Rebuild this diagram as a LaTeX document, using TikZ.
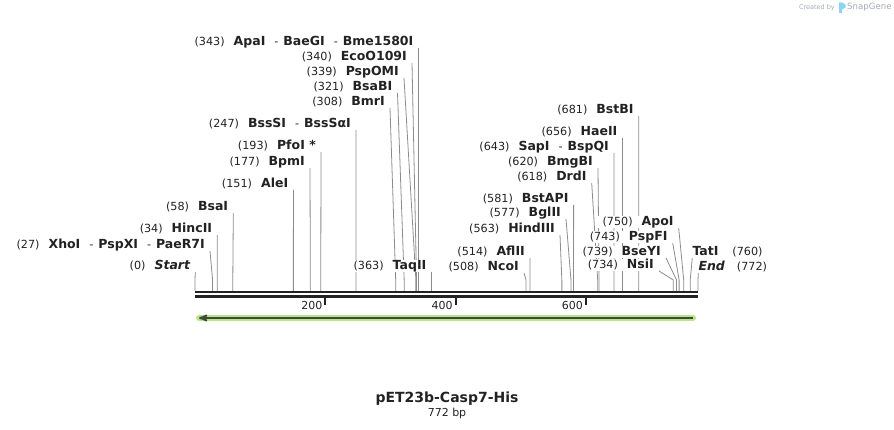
\documentclass[tikz,border=0pt]{standalone}
\usepackage{fontspec}
\setmainfont{DejaVu Sans}
\usetikzlibrary{arrows}
\usetikzlibrary{backgrounds}

\definecolor{sitegray}{HTML}{8C8C8C}
\definecolor{seqblack}{HTML}{222222}
\definecolor{featlight}{HTML}{B6E58A}
\definecolor{featdark}{HTML}{3F4A38}
\definecolor{credgray}{HTML}{A3AAB2}
\definecolor{credblue}{HTML}{8FD3F4}

\newcommand{\enz}[1]{{\fontsize{12.5}{14}\selectfont\bfseries #1}}
\newcommand{\enzit}[1]{{\fontsize{12.5}{14}\selectfont\bfseries\itshape #1}}
\newcommand{\sitepos}[1]{(#1)\hspace{9pt}}
\newcommand{\enzor}{\hspace{9pt}-\hspace{5pt}}

\begin{document}
\begin{tikzpicture}[x=1pt, y=-1pt,
  sitelabel/.style={anchor=south east, fill=white, inner xsep=5pt, inner ysep=0pt,
    text depth=2.5pt, font=\fontsize{11.2}{13}\selectfont, text=seqblack},
  siteline/.style={sitegray, line width=0.8pt},
  seqline/.style={seqblack, line width=2.6pt},
  tickmark/.style={seqblack, line width=2pt}]
\useasboundingbox (0,0) rectangle (894,430);

% cut sites, label right of the number
\foreach \p/\xt/\yt/\txt in {
 343/418.5/48/{\enz{ApaI}\enzor\enz{BaeGI}\enzor\enz{Bme1580I}},
 340/412/63/{\enz{EcoO109I}},
 339/404/78/{\enz{PspOMI}},
 321/397.5/93/{\enz{BsaBI}},
 308/390/108/{\enz{BmrI}},
 247/356/130/{\enz{BssSI}\enzor\enz{BssSαI}},
 193/321/152/{\enz{PfoI *}},
 177/310/168/{\enz{BpmI}},
 151/293.4/190/{\enz{AleI}},
 58/233.3/213/{\enz{BsaI}},
 34/217.3/235/{\enz{HincII}},
 27/210/251/{\enz{XhoI}\enzor\enz{PspXI}\enzor\enz{PaeR7I}},
 0/195.3/272/{\enzit{Start}},
 363/431.5/272/{\enz{TaqII}},
 508/524/273/{\enz{NcoI}},
 514/530/258/{\enz{AflII}},
 563/560/235/{\enz{HindIII}},
 577/566/219/{\enz{BglII}},
 581/573.6/205/{\enz{BstAPI}},
 618/591.7/183/{\enz{DrdI}},
 620/598/168/{\enz{BmgBI}},
 643/614/153/{\enz{SapI}\enzor\enz{BspQI}},
 656/622.5/138/{\enz{HaeII}},
 681/638.7/116/{\enz{BstBI}},
 734/659/271/{\enz{NsiI}},
 739/666/258/{\enz{BseYI}},
 743/672.7/243/{\enz{PspFI}},
 750/678.7/228/{\enz{ApoI}}} {
 \node[sitelabel] (l\p) at (\xt,\yt) {\sitepos{\p}\txt};
 \coordinate (k\p) at (195+0.6516*\p,280);
 \coordinate (c\p) at (195+0.6516*\p,291);
 \begin{pgfonlayer}{background}
  \draw[siteline] (l\p.south east) -- (k\p) -- (c\p);
 \end{pgfonlayer}
}

% cut sites, number right of the label
\foreach \p/\xt/\yt/\txt/\gap in {
 760/692.3/258/{\enz{TatI}}/14pt,
 772/698.3/273/{\enzit{End}}/12pt} {
 \node[sitelabel, anchor=south west, inner xsep=0pt] (l\p) at (\xt,\yt) {\txt\hspace{\gap}(\p)};
 \coordinate (k\p) at (195+0.6516*\p,280);
 \coordinate (c\p) at (195+0.6516*\p,291);
 \begin{pgfonlayer}{background}
  \draw[siteline] (l\p.south west) -- (k\p) -- (c\p);
 \end{pgfonlayer}
}

% sequence
\draw[seqline] (195,292) -- (698,292);
\draw[seqline] (195,296.6) -- (698,296.6);
\foreach \t in {200,400,600} {
 \draw[tickmark] (195+0.6516*\t,297) -- (195+0.6516*\t,305)
   node[left, inner sep=2pt, font=\fontsize{11}{13}\selectfont, text=seqblack] {\t};
}

% feature arrow
\draw[featlight, line width=6pt, line cap=round] (199,318) -- (693,318);
\draw[featdark, line width=1.8pt, ->, >=stealth'] (693,318) -- (199,318);

% title
\node[font=\fontsize{14}{16}\selectfont\bfseries, text=seqblack] (title) at (447,399) {pET23b-Casp7-His};
\node[font=\fontsize{11}{13}\selectfont, text=seqblack] (length) at (447,413) {772 bp};

% credit
\node[anchor=east, inner sep=0pt, font=\fontsize{6.5}{8}\selectfont, text=credgray] (cred) at (835,8) {Created by};
\fill[credblue] (839,2.5) rectangle (842,13) (842,2.5) -- (845.5,4.5) -- (845.5,7.5) -- (842,9.5) -- cycle;
\node[anchor=west, inner sep=0pt, font=\fontsize{8.6}{10}\selectfont, text=credgray] (snap) at (847,7.5) {SnapGene};
\end{tikzpicture}
\end{document}
